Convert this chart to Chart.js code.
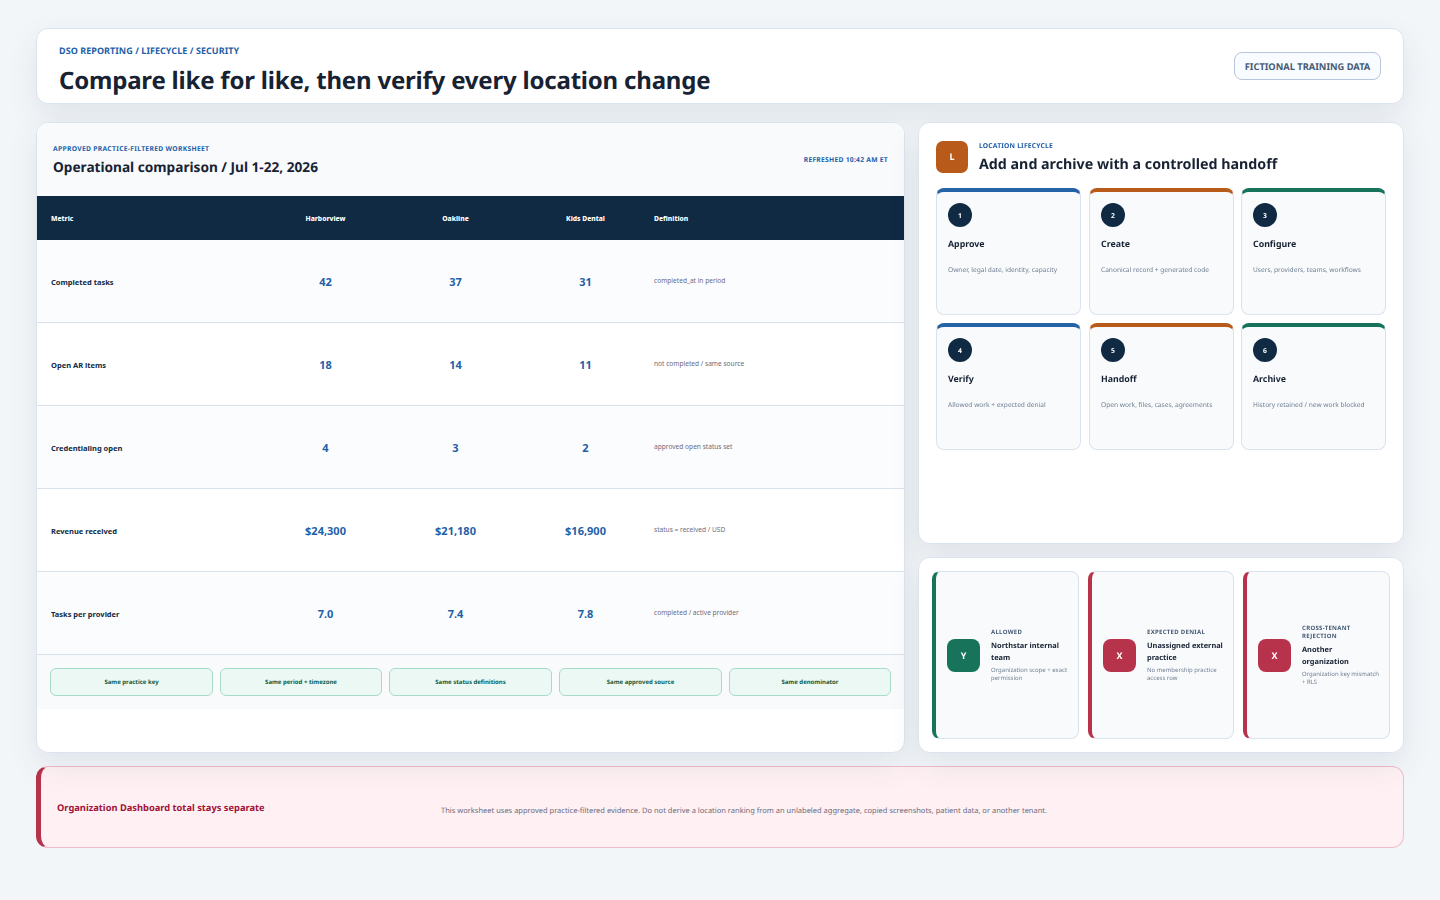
<!DOCTYPE html>
<html>
<head>
<meta charset="utf-8">
<title>Compare like for like</title>
<script src="https://cdn.jsdelivr.net/npm/chart.js@4"></script>
<style>
* { box-sizing: border-box; margin: 0; padding: 0; }
html, body { width: 1440px; height: 900px; overflow: hidden; background: #f3f6f9; font-family: "Noto Sans", sans-serif; color: #172233; text-rendering: geometricPrecision; }
.card { position: absolute; z-index: 1; background: #fff; border: 1px solid #dbe4ee; border-radius: 12px; box-shadow: 0 12px 32px rgba(16, 42, 67, .085); }
.abs { position: absolute; white-space: nowrap; line-height: 1; }
#top { left: 36px; top: 28px; width: 1368px; height: 76px; }
#eyebrow { left: 22px; top: 17px; font-size: 9px; font-weight: 700; color: #1f5fa8; letter-spacing: .05px; }
#title { left: 22px; top: 40px; font-size: 24px; font-weight: 700; color: #172233; letter-spacing: -.2px; }
#badge { left: 1197px; top: 23px; width: 147px; height: 28px; border: 1px solid #b7c6da; border-radius: 8px; background: #f8fbff; color: #475a75; font-size: 9.3px; font-weight: 700; text-align: center; line-height: 27px; }
#left { left: 36px; top: 122px; width: 869px; height: 631px; overflow: hidden; }
#leftHead { position: absolute; left: 0; top: 0; width: 867px; height: 73px; background: #f8fafc; }
#leftEyebrow { left: 16px; top: 23px; font-size: 6.75px; font-weight: 700; color: #1f5fa8; letter-spacing: .3px; }
#leftTitle { left: 16px; top: 37.4px; font-size: 13.65px; font-weight: 700; color: #172233; }
#refreshed { right: 16px; top: 34px; font-size: 6.75px; font-weight: 700; color: #1f5fa8; letter-spacing: .25px; }
#tableChart { position: absolute; left: 0; top: 73px; width: 867px; height: 459px; }
#chips { position: absolute; left: 0; top: 532px; width: 867px; height: 54px; background: #f8fafc; }
.chip { position: absolute; top: 13px; height: 28px; background: #ecf8f4; border: 1px solid #a8dac8; border-radius: 6px; color: #0f5c45; font-size: 6px; font-weight: 700; text-align: center; line-height: 26px; }
#right { left: 918px; top: 122px; width: 486px; height: 422px; }
#lIcon { position: absolute; left: 17px; top: 18px; width: 32px; height: 32px; border-radius: 7px; background: #b85a1a; color: #fff; font-size: 9px; font-weight: 700; text-align: center; line-height: 32px; }
#lEyebrow { left: 60px; top: 20px; font-size: 6.75px; font-weight: 700; color: #1f5fa8; letter-spacing: .17px; }
#lTitle { left: 60px; top: 35px; font-size: 14.25px; font-weight: 700; color: #172233; }
.step { position: absolute; width: 145px; height: 127px; background: #f8fafc; border: 1px solid #d9e3ef; border-top-width: 4px; border-radius: 8px; }
.step .num { position: absolute; left: 11px; top: 11px; width: 24px; height: 24px; border-radius: 50%; background: #102a43; color: #fff; font-size: 6.75px; font-weight: 700; text-align: center; line-height: 25px; }
.step .name { left: 11px; top: 48px; font-size: 8.8px; font-weight: 700; color: #172233; }
.step .desc { left: 11px; top: 74.5px; font-size: 6.6px; color: #6f7f92; }
#access { left: 918px; top: 557px; width: 486px; height: 196px; }
.acc { position: absolute; top: 13px; height: 168px; background: #f8fafc; border: 1px solid #d9e3ef; border-left-width: 4px; border-radius: 8px; }
.acc .mark { position: absolute; left: 11px; top: 67px; width: 33px; height: 33px; border-radius: 8px; color: #fff; font-size: 9px; font-weight: 700; text-align: center; line-height: 33px; }
.acc .txt { position: absolute; left: 55px; right: 8px; top: 0; height: 166px; display: flex; flex-direction: column; justify-content: center; }
.acc .lab { font-size: 6px; line-height: 8px; font-weight: 700; color: #475a75; letter-spacing: .3px; margin-bottom: 5.5px; }
.acc .nm { font-size: 7.4px; line-height: 11.2px; font-weight: 700; color: #172233; margin-bottom: 2.5px; }
.acc .ds { font-size: 6px; line-height: 8px; color: #6f7f92; }
#alert { z-index: 0; left: 36px; top: 766px; width: 1368px; height: 82px; background: #fff1f3; border: 1px solid #f0bccb; border-left: 5px solid #b7334c; box-shadow: none; }
#alertTitle { left: 16px; top: 36px; font-size: 9.3px; font-weight: 700; color: #9f1239; }
#alertText { left: 400px; top: 41px; font-size: 7.5px; color: #6d6a7d; }
</style>
</head>
<body>
<div class="card" id="top">
  <div class="abs" id="eyebrow">DSO REPORTING / LIFECYCLE / SECURITY</div>
  <div class="abs" id="title">Compare like for like, then verify every location change</div>
  <div class="abs" id="badge">FICTIONAL TRAINING DATA</div>
</div>
<div class="card" id="left">
  <div id="leftHead">
    <div class="abs" id="leftEyebrow">APPROVED PRACTICE-FILTERED WORKSHEET</div>
    <div class="abs" id="leftTitle">Operational comparison / Jul 1-22, 2026</div>
    <div class="abs" id="refreshed">REFRESHED 10:42 AM ET</div>
  </div>
  <canvas id="tableChart" width="867" height="459"></canvas>
  <div id="chips"></div>
</div>
<div class="card" id="right">
  <div id="lIcon">L</div>
  <div class="abs" id="lEyebrow">LOCATION LIFECYCLE</div>
  <div class="abs" id="lTitle">Add and archive with a controlled handoff</div>
</div>
<div class="card" id="access"></div>
<div class="card" id="alert">
  <div class="abs" id="alertTitle">Organization Dashboard total stays separate</div>
  <div class="abs" id="alertText">This worksheet uses approved practice-filtered evidence. Do not derive a location ranking from an unlabeled aggregate, copied screenshots, patient data, or another tenant.</div>
</div>
<script>
const locations = ["Harborview", "Oakline", "Kids Dental"]
const metrics = ["Completed tasks", "Open AR items", "Credentialing open", "Revenue received", "Tasks per provider"]
const definitions = ["completed_at in period", "not completed / same source", "approved open status set", "status = received / USD", "completed / active provider"]
const harborview = [42, 18, 4, 24300, 7.0]
const oakline = [37, 14, 3, 21180, 7.4]
const kidsDental = [31, 11, 2, 16900, 7.8]
const metricFormats = ["count", "count", "count", "usd", "ratio"]

const chipLabels = ["Same practice key", "Same period + timezone", "Same status definitions", "Same approved source", "Same denominator"]
const stepNames = ["Approve", "Create", "Configure", "Verify", "Handoff", "Archive"]
const stepNotes = ["Owner, legal date, identity, capacity", "Canonical record + generated code", "Users, providers, teams, workflows", "Allowed work + expected denial", "Open work, files, cases, agreements", "History retained / new work blocked"]
const accessLabels = ["ALLOWED", "EXPECTED DENIAL", "CROSS-TENANT REJECTION"]
const accessNames = ["Northstar internal team", "Unassigned external practice", "Another organization"]
const accessNotes = ["Organization scope + exact permission", "No membership practice access row", "Organization key mismatch + RLS"]
const accessMarks = ["Y", "X", "X"]

const GREEN = "#17745a", RED = "#b7334c", BLUE = "#2563a6", ORANGE = "#b85a1a", NAVY = "#102a43"

function formatValue(v, kind){
  if(kind === "usd") return "$" + v.toLocaleString("en-US")
  if(kind === "ratio") return v.toFixed(1)
  return String(v)
}

// chips under the table
const chipLeft = [13, 183, 352, 522, 692]
const chipWidth = [163, 162, 163, 163, 162]
chipLabels.forEach(function(label, i){
  const el = document.createElement("div")
  el.className = "chip"
  el.style.left = chipLeft[i] + "px"
  el.style.width = chipWidth[i] + "px"
  el.textContent = label
  document.getElementById("chips").appendChild(el)
})

// lifecycle steps
const stepLeft = [17, 170, 322]
const stepTop = [65, 200]
const stepColors = [BLUE, ORANGE, GREEN]
stepNames.forEach(function(name, i){
  const el = document.createElement("div")
  el.className = "step"
  el.style.left = stepLeft[i % 3] + "px"
  el.style.top = stepTop[Math.floor(i / 3)] + "px"
  el.style.borderTopColor = stepColors[i % 3]
  el.innerHTML = '<div class="num">' + (i + 1) + '</div><div class="abs name">' + name + '</div><div class="abs desc">' + stepNotes[i] + '</div>'
  document.getElementById("right").appendChild(el)
})

// access outcome cards
const accessLeft = [13, 169, 324]
const accessWidth = [147, 146, 147]
accessNames.forEach(function(name, i){
  const color = i === 0 ? GREEN : RED
  const el = document.createElement("div")
  el.className = "acc"
  el.style.left = accessLeft[i] + "px"
  el.style.width = accessWidth[i] + "px"
  el.style.borderLeftColor = color
  el.innerHTML = '<div class="mark" style="background:' + color + '">' + accessMarks[i] + '</div><div class="txt"><div class="lab">' + accessLabels[i] + '</div><div class="nm">' + name + '</div><div class="ds">' + accessNotes[i] + '</div></div>'
  document.getElementById("access").appendChild(el)
})

// the comparison table, cells come from the chart scales
const tablePlugin = {
  id: "tablePlugin",
  beforeDraw: function(chart){
    const ctx = chart.ctx
    const y = chart.scales.y
    const rowH = y.height / metrics.length
    ctx.save()
    ctx.fillStyle = "#ffffff"
    ctx.fillRect(0, 0, chart.width, chart.height)
    ctx.fillStyle = NAVY
    ctx.fillRect(0, 0, chart.width, y.top)
    metrics.forEach(function(m, i){
      const mid = y.getPixelForValue(i)
      ctx.fillStyle = i % 2 === 0 ? "#fbfcfe" : "#ffffff"
      ctx.fillRect(0, mid - rowH / 2, chart.width, rowH)
      ctx.fillStyle = "#d9e2ec"
      ctx.fillRect(0, Math.round(mid + rowH / 2) - 1, chart.width, 1)
    })
    ctx.restore()
  },
  afterDatasetsDraw: function(chart){
    const ctx = chart.ctx
    ctx.save()
    ctx.textBaseline = "middle"
    ctx.textAlign = "center"
    ctx.fillStyle = "#1f5fa8"
    ctx.font = "700 11px 'Noto Sans'"
    chart.data.datasets.forEach(function(ds, d){
      chart.getDatasetMeta(d).data.forEach(function(pt, i){
        ctx.fillText(formatValue(ds.values[i], metricFormats[i]), pt.x, pt.y + 1.5)
      })
    })
    ctx.textAlign = "left"
    ctx.fillStyle = "#ffffff"
    ctx.font = "800 6.75px 'Noto Sans'"
    ctx.fillText("Metric", chart.scales.y.left, 23)
    ctx.fillText("Definition", chart.scales.y2.left + 3.5, 23)
    ctx.restore()
  }
}

function locationSet(name, values){
  return {
    label: name,
    values: values,
    data: metrics.map(function(m){ return {x: name, y: m} }),
    showLine: false,
    pointRadius: 0
  }
}

// the row axes span the full chart height, no room kept for half a tick label
function fitRowAxis(width){
  return function(s){
    s.width = width
    s.paddingTop = 0
    s.paddingBottom = 0
  }
}

const canvas = document.getElementById("tableChart")
const ctx = canvas.getContext("2d", {alpha: false})
ctx.textRendering = "geometricPrecision"
new Chart(ctx, {
  type: "line",
  data: {
    labels: locations,
    datasets: [
      locationSet(locations[0], harborview),
      locationSet(locations[1], oakline),
      locationSet(locations[2], kidsDental)
    ]
  },
  plugins: [tablePlugin],
  options: {
    responsive: false,
    animation: false,
    layout: {autoPadding: false, padding: {left: 14, right: 0, top: 0, bottom: 0}},
    plugins: {legend: {display: false}, tooltip: {enabled: false}},
    scales: {
      x: {
        type: "category",
        position: "top",
        offset: true,
        labels: locations,
        grid: {display: false, drawTicks: false},
        border: {display: false},
        afterFit: function(s){ s.height = 44 },
        ticks: {color: "#ffffff", padding: 17, maxRotation: 0, autoSkip: false, font: {family: "Noto Sans", size: 6.75, weight: 800}}
      },
      y: {
        type: "category",
        position: "left",
        offset: true,
        labels: metrics,
        grid: {display: false, drawTicks: false},
        border: {display: false},
        afterFit: fitRowAxis(209.5),
        ticks: {crossAlign: "far", labelOffset: 1, autoSkip: false, color: NAVY, font: {family: "Noto Sans", size: 7.5, weight: 700}}
      },
      y2: {
        type: "category",
        position: "right",
        offset: true,
        labels: definitions,
        grid: {display: false, drawTicks: false},
        border: {display: false},
        afterFit: fitRowAxis(253.5),
        ticks: {crossAlign: "near", padding: 3.5, autoSkip: false, color: "#6d6a7d", font: {family: "Noto Sans", size: 6.6}}
      }
    }
  }
})
</script>
</body>
</html>
